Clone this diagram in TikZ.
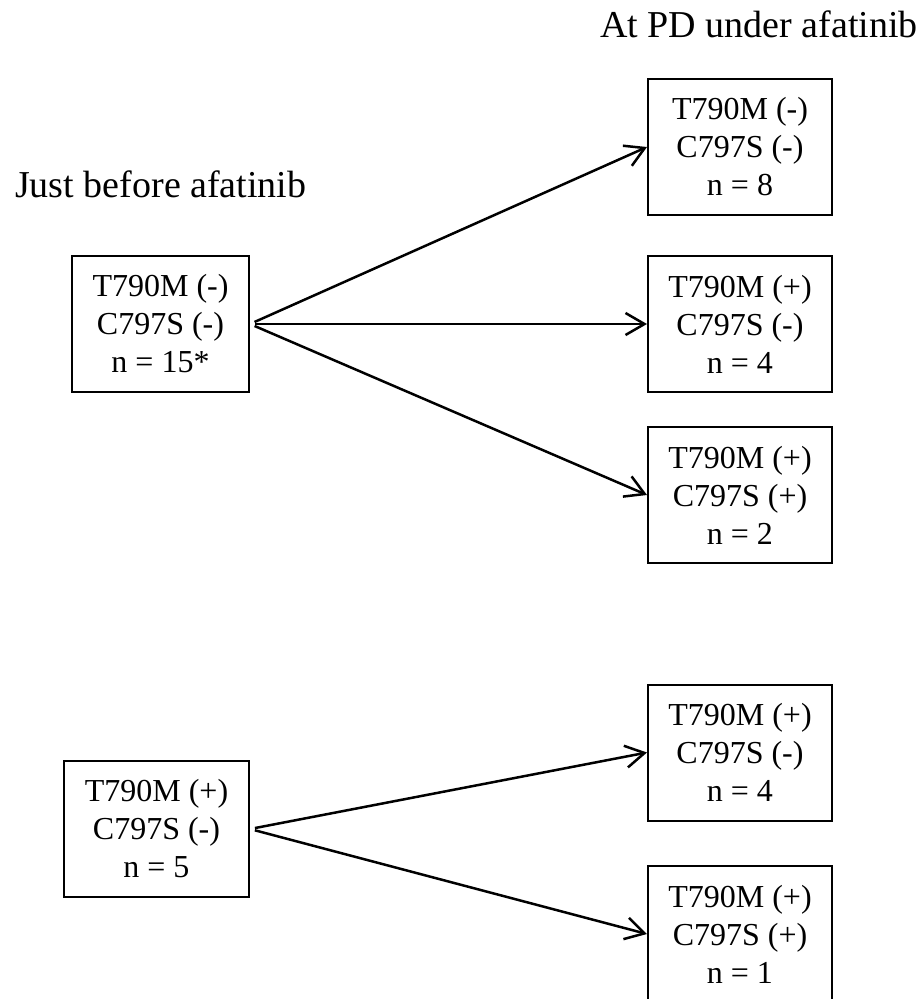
\documentclass[tikz,border=0pt]{standalone}
\usepackage{fontspec}
\setmainfont{Liberation Serif}
\usetikzlibrary{arrows.meta}

\begin{document}
\begin{tikzpicture}
	[x=1pt,y=-1pt,
	group/.style={shape=rectangle,draw,line width=2pt,inner sep=0pt,align=center,
		minimum width=184pt,minimum height=136pt,font=\fontsize{32}{38}\selectfont},
	heading/.style={anchor=base west,inner sep=0pt,font=\fontsize{38}{45}\selectfont},
	link/.style={draw,line width=2.5pt,-{Straight Barb[length=19pt,width=22pt]},shorten <=5pt}]
	\useasboundingbox (0,0) rectangle (923,999);
	\clip (0,0) rectangle (923,999);
	\node[heading] (before) at (15,197) {Just before afatinib};
	\node[heading] (after) at (600,37) {At PD under afatinib};
	
	\node[group,minimum width=177pt] (l1) at (160.5,324) {T790M (-)\\C797S (-)\\n = 15*};
	\node[group,minimum width=185pt] (l2) at (156.5,829) {T790M (+)\\C797S (-)\\n = 5};
	
	\node[group] (r1) at (740,147) {T790M (-)\\C797S (-)\\n = 8};
	\node[group] (r2) at (740,324) {T790M (+)\\C797S (-)\\n = 4};
	\node[group] (r3) at (740,495) {T790M (+)\\C797S (+)\\n = 2};
	\node[group] (r4) at (740,752.5) {T790M (+)\\C797S (-)\\n = 4};
	\node[group] (r5) at (740,934) {T790M (+)\\C797S (+)\\n = 1};
	
	\path
	\foreach \startNode/\endNode in {l1/r1,l1/r2,l1/r3,l2/r4,l2/r5}
	{
		(\startNode.east) edge[link] (\endNode.west)
	};
\end{tikzpicture}
\end{document}
